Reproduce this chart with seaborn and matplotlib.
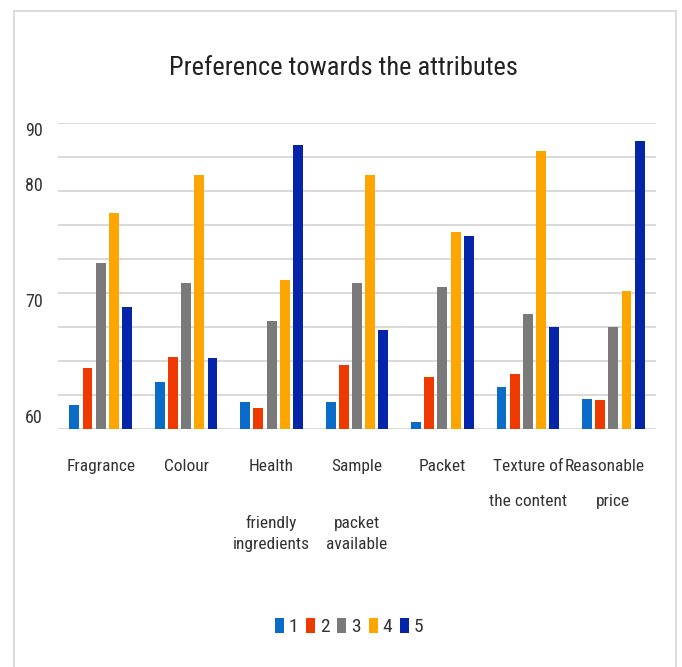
import matplotlib
matplotlib.use("Agg")
import matplotlib.pyplot as plt
import matplotlib.transforms as mtransforms
from matplotlib import font_manager
from matplotlib.lines import Line2D
from matplotlib.ticker import FixedLocator
import numpy as np
import pandas as pd
import seaborn as sns

# ---- data -------------------------------------------------------------
attributes = ["Fragrance", "Colour", "Health", "Sample", "Packet",
              "Texture of", "Reasonable"]
# continuation lines printed under some category names: (category index, line, row)
extra_lines = [(2, "friendly", 2), (2, "ingredients", 3),
               (3, "packet", 2), (3, "available", 3),
               (5, "the content", 1), (6, "price", 1)]
ratings = ["1", "2", "3", "4", "5"]
rating_1 = [62.4, 64.6, 62.7, 62.7, 60.7, 64.1, 63.0]
rating_2 = [66.0, 67.1, 62.1, 66.3, 65.1, 65.4, 62.9]
rating_3 = [76.3, 74.3, 70.6, 74.3, 74.0, 71.3, 70.0]
rating_4 = [81.2, 84.9, 74.6, 84.9, 79.3, 87.3, 73.6]
rating_5 = [72.0, 67.0, 87.9, 69.7, 79.0, 70.0, 88.3]
ytick_labels = ["60", "70", "80", "90"]
ytick_values = [61.33, 72.68, 84.05, 89.44]

colors = ["#0A6CC8", "#EE3A00", "#7A7A7A", "#FFA500", "#0424AA"]

series = [rating_1, rating_2, rating_3, rating_4, rating_5]
df = pd.DataFrame({
    "attribute": np.repeat([attributes], len(ratings), axis=0).ravel(),
    "rating": np.repeat(ratings, len(attributes)),
    "score": np.concatenate(series),
})

# ---- style ------------------------------------------------------------
sns.set_theme(style="white")

# prefer a narrow sans face; otherwise a regular one at a smaller size
installed = {f.name for f in font_manager.fontManager.ttflist}
family, fs, title_fs, leg_fs = "Liberation Sans", 11, 17, 12
for cand in ["Liberation Sans Narrow", "Roboto Condensed", "Open Sans Condensed",
             "Noto Sans Condensed", "DejaVu Sans Condensed"]:
    if cand in installed:
        family, fs, title_fs, leg_fs = cand, 12.5, 19, 14
        break
plt.rcParams["font.family"] = [family, "DejaVu Sans"]

text_color = "#333333"
grid_color = "#D9D9D9"
leg_px = leg_fs * 100 / 72  # legend font size in pixels

fig = plt.figure(figsize=(6.82, 6.67), dpi=100)
ax = fig.add_axes([58 / 682, 1 - 429.3 / 667, (656 - 58) / 682, (429.3 - 123.3) / 667])

sns.barplot(data=df, x="attribute", y="score", hue="rating", order=attributes,
            hue_order=ratings, palette=colors, width=0.77, gap=0.25,
            saturation=1, linewidth=0, ax=ax)

ax.set_xlim(-0.5, len(attributes) - 0.5)
ax.set_ylim(60, 90)
ax.set_xlabel("")
ax.set_ylabel("")
for s in ax.spines.values():
    s.set_visible(False)

# horizontal gridlines (ten evenly spaced rules)
ax.yaxis.set_minor_locator(FixedLocator(np.linspace(60, 90, 10)))
ax.grid(False)
ax.grid(which="minor", axis="y", color=grid_color, linewidth=1.4)
ax.set_axisbelow(True)

ax.set_yticks(ytick_values, labels=ytick_labels)
ax.tick_params(axis="y", which="both", length=0, pad=10.8, labelsize=fs + 0.5,
               labelcolor=text_color)
ax.tick_params(axis="x", length=0, pad=21.5, labelsize=fs,
               labelcolor=text_color)
ax.set_xticks(range(len(attributes)), labels=attributes)

# nudge the last category name left a little
last = ax.get_xticklabels()[-1]
last.set_transform(last.get_transform() +
                   mtransforms.ScaledTranslation(-0.09, 0, fig.dpi_scale_trans))

row_offsets = {1: -52.3, 2: -67.5, 3: -83.3}
for idx, txt, row in extra_lines:
    ax.annotate(txt, xy=(idx, 0), xycoords=("data", "axes fraction"),
                xytext=(0, row_offsets[row]), textcoords="offset points",
                ha="center", va="center", fontsize=fs, color=text_color)

# legend
handles, labels = ax.get_legend_handles_labels()
if ax.get_legend() is not None:
    ax.get_legend().remove()
fig.legend(handles, labels, loc="center", bbox_to_anchor=(349 / 682, 1 - 627 / 667),
           ncol=5, frameon=False, fontsize=leg_fs, handlelength=9 / leg_px,
           handleheight=15 / leg_px, handletextpad=4.5 / leg_px,
           columnspacing=8 / leg_px, labelcolor=text_color)

fig.suptitle("Preference towards the attributes", x=343 / 682, y=1 - 68 / 667,
             va="center", ha="center", fontsize=title_fs, color="#222222")

# chart frame
frame_kw = dict(color=grid_color, linewidth=1.3, transform=fig.transFigure)
fig.add_artist(Line2D([13.5 / 682, 675.7 / 682], [1 - 11 / 667, 1 - 11 / 667], **frame_kw))
fig.add_artist(Line2D([13.5 / 682, 13.5 / 682], [1 - 11 / 667, 0], **frame_kw))
fig.add_artist(Line2D([675.7 / 682, 675.7 / 682], [1 - 11 / 667, 0], **frame_kw))

fig.savefig("out.png", dpi=100, facecolor="white")
